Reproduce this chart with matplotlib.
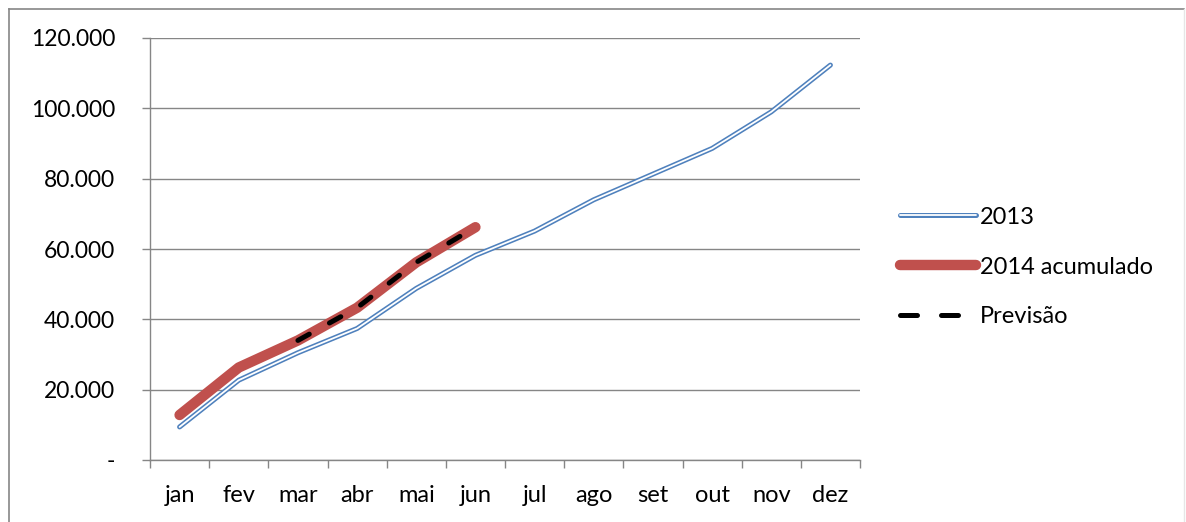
import matplotlib
matplotlib.use("Agg")
import matplotlib.pyplot as plt
import matplotlib.patheffects as pe
from matplotlib.lines import Line2D
from matplotlib.ticker import FuncFormatter, FixedLocator

months = ["jan", "fev", "mar", "abr", "mai", "jun", "jul", "ago", "set", "out", "nov", "dez"]
serie_2013 = [9400, 22700, 30500, 37400, 48800, 58200, 65100, 74000, 81300, 88600, 99000, 112300]
serie_2014 = [12800, 26300, 34000, 43300, 56200, 66200]
previsao_months = ["mar", "abr", "mai", "jun"]
previsao = [34000, 43300, 56200, 66200]
yticks = [0, 20000, 40000, 60000, 80000, 100000, 120000]

plt.rcParams['font.family'] = ['Lato', 'DejaVu Sans']
FS = 17
GRAY = '#868686'

fig = plt.figure(figsize=(11.86, 5.22), dpi=100)
ax = fig.add_axes([150/1186, 1-460/522, 710/1186, 422/522])

x = list(range(len(months)))
l13, = ax.plot(x, serie_2013, color='white', lw=1.3, solid_capstyle='round', solid_joinstyle='round',
        path_effects=[pe.Stroke(linewidth=3.6, foreground='#4f81bd', capstyle='round', joinstyle='round'), pe.Normal()],
        label='2013', zorder=3)
l14, = ax.plot(x[:len(serie_2014)], serie_2014, color='#c0504d', lw=7.5, solid_capstyle='round',
        solid_joinstyle='round', label='2014 acumulado', zorder=4)
px = [months.index(m) for m in previsao_months]
ax.plot(px, previsao, color='black', lw=3.6, dashes=(2.6, 4.6), dash_capstyle='round',
        label='Previsão', zorder=5)
prev_handle = Line2D([], [], color='black', lw=3.6, dashes=(3.4, 4.8), dash_capstyle='round')

ax.set_xlim(-0.5, 11.5)
ax.set_ylim(0, 120000)
ax.set_yticks(yticks)
ax.yaxis.set_major_formatter(FuncFormatter(lambda v, p: '-' if v == 0 else f"{int(v):,}".replace(',', '.')))
ax.set_xticks(x)
ax.set_xticklabels(months)
ax.xaxis.set_minor_locator(FixedLocator([i - 0.5 for i in range(13)]))
ax.tick_params(axis='x', which='major', length=0, pad=18, labelsize=FS)
ax.tick_params(axis='x', which='minor', length=6, width=1, color=GRAY, direction='out')
ax.tick_params(axis='y', which='major', length=6, width=1, color=GRAY, pad=19, labelsize=16.5)

ax.grid(axis='y', color=GRAY, lw=1.0)
ax.set_axisbelow(True)
for s in ['top', 'right']:
    ax.spines[s].set_visible(False)
for s in ['left', 'bottom']:
    ax.spines[s].set_color(GRAY)
    ax.spines[s].set_linewidth(1.0)

leg = ax.legend([l13, l14, prev_handle], ['2013', '2014 acumulado', 'Previsão'],
                loc='center left', bbox_to_anchor=(900/1186, 1-267/522), bbox_transform=fig.transFigure,
                frameon=False, fontsize=FS, handlelength=3.2, handletextpad=0.2, labelspacing=1.22,
                borderpad=0, borderaxespad=0)

# outer chart border
fig.add_artist(Line2D([9/1186, 1184/1186], [1-9/522, 1-9/522], transform=fig.transFigure, color=GRAY, lw=1.2))
fig.add_artist(Line2D([9/1186, 9/1186], [0, 1-9/522], transform=fig.transFigure, color=GRAY, lw=1.2))
fig.add_artist(Line2D([1184/1186, 1184/1186], [0, 1-9/522], transform=fig.transFigure, color='#e6e6e6', lw=1.0))

fig.savefig('out.png', dpi=100)
